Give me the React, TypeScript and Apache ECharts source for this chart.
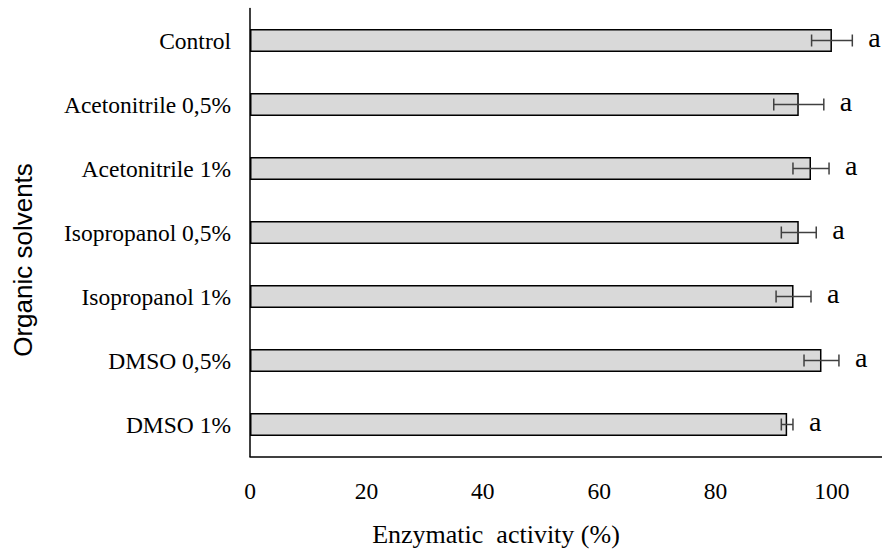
import React, { useEffect, useRef } from "react";
import * as echarts from "echarts";

// Treatments, top to bottom
const categories = [
  "Control",
  "Acetonitrile 0,5%",
  "Acetonitrile 1%",
  "Isopropanol 0,5%",
  "Isopropanol 1%",
  "DMSO 0,5%",
  "DMSO 1%",
];
// Mean relative enzymatic activity (%)
const activity = [100, 94.3, 96.4, 94.3, 93.4, 98.2, 92.3];
// Standard deviation (%)
const stdDev = [3.5, 4.3, 3.1, 3.0, 3.0, 3.0, 1.0];
// Statistical grouping letters
const groupLetters = ["a", "a", "a", "a", "a", "a", "a"];
// Value-axis ticks
const xTicks = { min: 0, max: 108.6, interval: 20 };

const SERIF = "Liberation Serif, Times New Roman, serif";
const SANS = "Liberation Sans, Arial, sans-serif";

export default function App() {
  const ref = useRef<HTMLDivElement>(null);

  useEffect(() => {
    if (!ref.current) return;
    document.body.style.margin = "0";
    const chart = echarts.init(ref.current, null, { renderer: "svg" });

    const errorData = categories.map((_, i) => [
      i,
      activity[i] - stdDev[i],
      activity[i] + stdDev[i],
      groupLetters[i],
    ]);

    chart.setOption({
      animation: false,
      backgroundColor: "#ffffff",
      grid: { left: 250, right: 0, top: 8.5, bottom: 97.5, containLabel: false },
      xAxis: {
        type: "value",
        min: xTicks.min,
        max: xTicks.max,
        interval: xTicks.interval,
        axisLine: { show: true, lineStyle: { color: "#000", width: 1.5 } },
        axisTick: { show: false },
        splitLine: { show: false },
        axisLabel: {
          showMaxLabel: false,
          color: "#000",
          fontFamily: SERIF,
          fontSize: 23.5,
          margin: 22,
        },
      },
      yAxis: {
        type: "category",
        data: categories,
        inverse: true,
        axisLine: { show: true, lineStyle: { color: "#000", width: 1.5 } },
        axisTick: { show: false },
        axisLabel: {
          color: "#000",
          fontFamily: SERIF,
          fontSize: 23.5,
          margin: 19,
        },
      },
      graphic: [
        {
          type: "text",
          x: 496,
          y: 534,
          style: {
            text: "Enzymatic  activity (%)",
            fill: "#000",
            font: `26px ${SERIF}`,
            align: "center",
            verticalAlign: "middle",
          },
        },
        {
          type: "text",
          x: 23,
          y: 260,
          rotation: Math.PI / 2,
          style: {
            text: "Organic solvents",
            fill: "#000",
            font: `26px ${SANS}`,
            align: "center",
            verticalAlign: "middle",
          },
        },
      ],
      series: [
        {
          type: "bar",
          data: activity,
          barWidth: 23,
          itemStyle: { color: "#d9d9d9", borderColor: "#000", borderWidth: 1.5 },
        },
        {
          type: "custom",
          data: errorData,
          encode: { x: [1, 2], y: 0 },
          z: 5,
          renderItem: (params: any, api: any) => {
            const idx = api.value(0);
            const lo = api.coord([api.value(1), idx]);
            const hi = api.coord([api.value(2), idx]);
            const cap = 6;
            const stroke = { stroke: "#404040", lineWidth: 1.5 };
            return {
              type: "group",
              children: [
                { type: "line", shape: { x1: lo[0], y1: lo[1], x2: hi[0], y2: hi[1] }, style: stroke },
                { type: "line", shape: { x1: lo[0], y1: lo[1] - cap, x2: lo[0], y2: lo[1] + cap }, style: stroke },
                { type: "line", shape: { x1: hi[0], y1: hi[1] - cap, x2: hi[0], y2: hi[1] + cap }, style: stroke },
                {
                  type: "text",
                  style: {
                    text: String(api.value(3)),
                    x: hi[0] + 16,
                    y: hi[1] - 3,
                    fill: "#000",
                    font: `28px ${SERIF}`,
                    align: "left",
                    verticalAlign: "middle",
                  },
                },
              ],
            };
          },
        },
      ],
    });

    return () => chart.dispose();
  }, []);

  return <div ref={ref} style={{ width: 882, height: 554 }} />;
}
